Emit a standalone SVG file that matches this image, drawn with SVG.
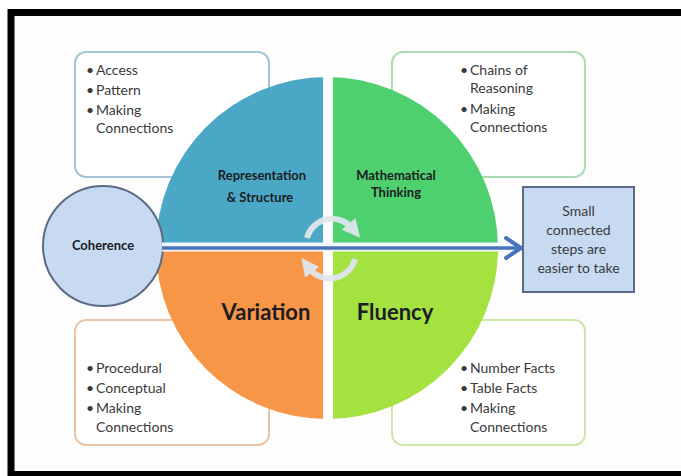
<svg xmlns="http://www.w3.org/2000/svg" width="681" height="476" viewBox="0 0 681 476">
  <style>
    .item { font-family: Lato, "Liberation Sans", sans-serif; font-size: 14px; fill: #3a3a3a; }
    .head { font-family: Lato, "Liberation Sans", sans-serif; font-weight: bold; fill: #1c1c24; text-anchor: middle; }
    .card { fill: #ffffff; stroke-width: 2; }
    .turn { fill: none; stroke: #dfe6ee; stroke-width: 6; opacity: 0.95; }
  </style>
  <defs>
    <clipPath id="pie">
      <circle cx="327" cy="248" r="171"/>
    </clipPath>
    <marker id="turnHead" viewBox="0 0 10 10" refX="3" refY="5" markerWidth="3" markerHeight="3" orient="auto" markerUnits="strokeWidth">
      <path d="M0,0 L10,5 L0,10 z" fill="#dfe6ee"/>
    </marker>
  </defs>

  <!-- frame -->
  <rect x="0" y="0" width="681" height="476" fill="#ffffff"/>
  <rect x="11" y="12.5" width="680" height="462" fill="#fdfdfd" stroke="#000000" stroke-width="7"/>

  <!-- bullet cards -->
  <g id="card-representation">
    <rect class="card" x="75" y="52" width="194" height="125" rx="11" stroke="#a3c6d6"/>
    <text class="item" x="86" y="75">•</text><text class="item" x="96" y="75">Access</text>
    <text class="item" x="86" y="95">•</text><text class="item" x="96" y="95">Pattern</text>
    <text class="item" x="86" y="115">•</text><text class="item" x="96" y="115">Making</text>
    <text class="item" x="96" y="133">Connections</text>
  </g>
  <g id="card-thinking">
    <rect class="card" x="392" y="52" width="193" height="125" rx="11" stroke="#a9ddb4"/>
    <text class="item" x="460" y="75">•</text><text class="item" x="470" y="75">Chains of</text>
    <text class="item" x="470" y="93">Reasoning</text>
    <text class="item" x="460" y="114">•</text><text class="item" x="470" y="114">Making</text>
    <text class="item" x="470" y="132">Connections</text>
  </g>
  <g id="card-variation">
    <rect class="card" x="75" y="320" width="194" height="125" rx="11" stroke="#ebc4a6"/>
    <text class="item" x="86" y="373">•</text><text class="item" x="96" y="373">Procedural</text>
    <text class="item" x="86" y="393">•</text><text class="item" x="96" y="393">Conceptual</text>
    <text class="item" x="86" y="413">•</text><text class="item" x="96" y="413">Making</text>
    <text class="item" x="96" y="432">Connections</text>
  </g>
  <g id="card-fluency">
    <rect class="card" x="392" y="320" width="193" height="125" rx="11" stroke="#cde8a6"/>
    <text class="item" x="460" y="373">•</text><text class="item" x="470" y="373">Number Facts</text>
    <text class="item" x="460" y="393">•</text><text class="item" x="470" y="393">Table Facts</text>
    <text class="item" x="460" y="413">•</text><text class="item" x="470" y="413">Making</text>
    <text class="item" x="470" y="432">Connections</text>
  </g>

  <!-- four quadrants of the wheel -->
  <g id="quadrants" clip-path="url(#pie)">
    <g id="representation">
      <rect x="150" y="70" width="173" height="176" fill="#4aa8c6"/>
    </g>
    <g id="thinking">
      <rect x="333" y="70" width="170" height="176" fill="#4fd06f"/>
    </g>
    <g id="variation">
      <rect x="150" y="250" width="173" height="176" fill="#f79646"/>
    </g>
    <g id="fluency">
      <rect x="333" y="250" width="170" height="176" fill="#a3e23f"/>
    </g>
  </g>
  <text class="head" x="262" y="180" font-size="13">Representation</text>
  <text class="head" x="260" y="202" font-size="13">&amp; Structure</text>
  <text class="head" x="396" y="180" font-size="13">Mathematical</text>
  <text class="head" x="396" y="197" font-size="13">Thinking</text>
  <text class="head" x="266" y="320" font-size="22">Variation</text>
  <text class="head" x="395" y="320" font-size="22">Fluency</text>

  <!-- coherence node -->
  <g id="coherence">
    <circle cx="103" cy="246" r="60" fill="#c8daf2" stroke="#5b6b85" stroke-width="2"/>
    <text class="head" x="103" y="250" font-size="13">Coherence</text>
  </g>

  <!-- outcome box -->
  <g id="outcome">
    <rect x="523" y="187" width="111" height="105" fill="#c8daf2" stroke="#5b6b85" stroke-width="2"/>
    <text class="item" x="578.5" y="216" text-anchor="middle" fill="#404048">Small</text>
    <text class="item" x="578.5" y="235" text-anchor="middle" fill="#404048">connected</text>
    <text class="item" x="578.5" y="254" text-anchor="middle" fill="#404048">steps are</text>
    <text class="item" x="578.5" y="273" text-anchor="middle" fill="#404048">easier to take</text>
  </g>

  <!-- connectors -->
  <g id="connectors">
    <line x1="162" y1="247" x2="518" y2="247" stroke="#f4f8fc" stroke-width="9"/>
    <line x1="162" y1="248" x2="520" y2="248" stroke="#4a74b8" stroke-width="3.5"/>
    <polyline points="506,238 521,248 506,258" fill="none" stroke="#4a74b8" stroke-width="4" stroke-linejoin="round" stroke-linecap="round"/>
  </g>

  <!-- rotating arrows at the hub -->
  <g id="cycle">
    <path class="turn" d="M307,238 A26,26 0 0 1 352,228" marker-end="url(#turnHead)"/>
    <path class="turn" d="M355,259 A26,26 0 0 1 309,268" marker-end="url(#turnHead)"/>
  </g>
</svg>
